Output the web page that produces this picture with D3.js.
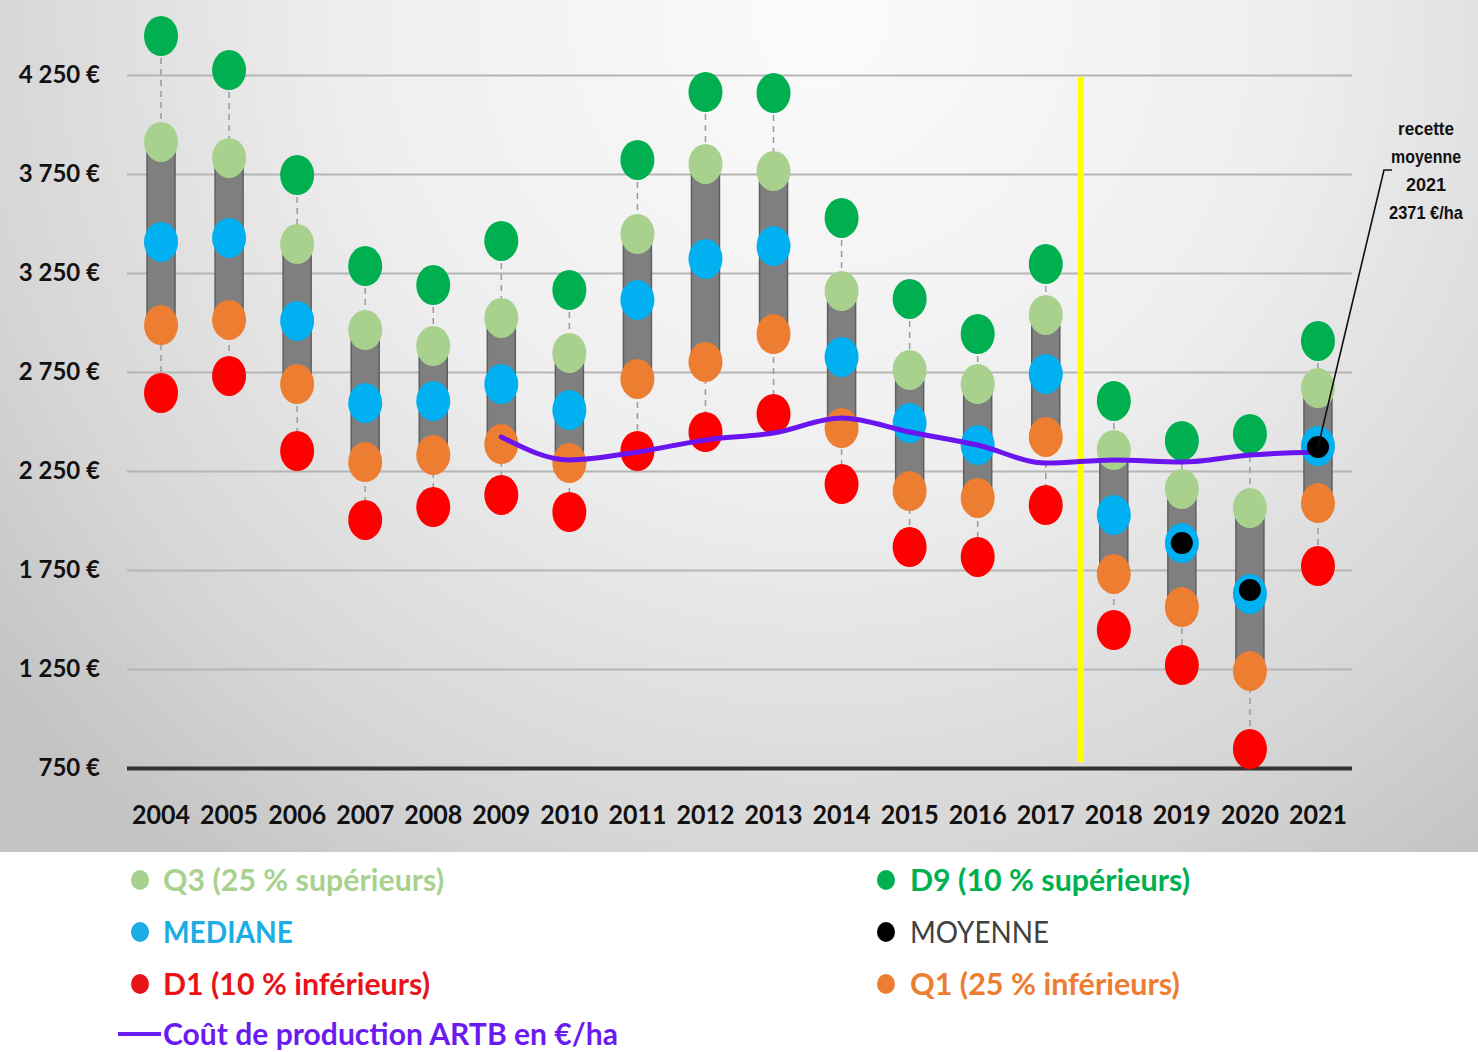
<!DOCTYPE html>
<html><head><meta charset="utf-8">
<script src="https://cdn.jsdelivr.net/npm/d3@7"></script>
<style>html,body{margin:0;padding:0;background:#fff;}svg{display:block;}</style>
</head><body>
<svg id="chart" width="1478" height="1052"></svg>
<script>
const years = ["2004","2005","2006","2007","2008","2009","2010","2011","2012","2013","2014","2015","2016","2017","2018","2019","2020","2021"];
const d9     = [4447,4275,3745,3285,3189,3412,3164,3821,4164,4159,3528,3119,2942,3295,2604,2402,2437,2907];
const q3     = [3912,3831,3396,2962,2881,3023,2846,3447,3801,3765,3159,2760,2689,3038,2356,2159,2063,2669];
const median = [3407,3427,3008,2593,2603,2689,2558,3114,3321,3386,2826,2492,2381,2740,2028,1886,1629,2376];
const q1     = [2987,3013,2689,2295,2331,2386,2290,2715,2801,2942,2467,2149,2114,2422,1730,1563,1240,2088];
const d1     = [2644,2730,2351,2003,2068,2129,2043,2351,2447,2538,2184,1866,1816,2078,1447,1270,846,1770];
const moyenne= [null,null,null,null,null,null,null,null,null,null,null,null,null,null,null,1886,1649,2371];
const cout   = [null,null,null,null,null,2422,2306,2346,2407,2442,2518,2447,2381,2290,2306,2295,2331,2346];
const yTicks = [750,1250,1750,2250,2750,3250,3750,4250];
const annotationLines = ["recette","moyenne","2021","2371 €/ha"];
const legendLeft = [
  {label:"Q3 (25 % supérieurs)", color:"#a9d18e", len:281, weight:700},
  {label:"MEDIANE", color:"#1cace6", len:130, weight:700},
  {label:"D1 (10 % inférieurs)", color:"#e8141a", len:267, weight:700}
];
const legendRight = [
  {label:"D9 (10 % supérieurs)", color:"#00b050", len:280, weight:700, dot:"#00b050"},
  {label:"MOYENNE", color:"#404040", len:139, weight:400, dot:"#000"},
  {label:"Q1 (25 % inférieurs)", color:"#ed7d31", len:270, weight:700, dot:"#ed7d31"}
];
const legendLine = {label:"Coût de production ARTB en €/ha", color:"#6a1cf0", len:455};

const svg = d3.select("#chart");
const W = 1478, H = 1052;
const defs = svg.append("defs");
const grad = defs.append("radialGradient").attr("id","bg").attr("gradientUnits","userSpaceOnUse")
  .attr("cx",820).attr("cy",20).attr("r",1050);
grad.append("stop").attr("offset","0").attr("stop-color","#fbfbfb");
grad.append("stop").attr("offset","0.45").attr("stop-color","#eeeeee");
grad.append("stop").attr("offset","0.8").attr("stop-color","#d6d6d6");
grad.append("stop").attr("offset","1").attr("stop-color","#c4c4c4");
svg.append("rect").attr("x",0).attr("y",0).attr("width",W).attr("height",852).attr("fill","url(#bg)");

const x = d3.scaleBand().domain(years).range([127,1352]);
const cx = d => x(d) + x.bandwidth()/2;
const y = d3.scaleLinear().domain([750,4250]).range([768,75]);

const font = "Lato, 'Open Sans', sans-serif";

// y axis with gridlines
const yAxis = d3.axisLeft(y).tickValues(yTicks).tickSize(-(1352-127)).tickPadding(27)
  .tickFormat(v => d3.format(",")(v).replace(",", " ") + " €");
const gy = svg.append("g").attr("transform","translate(127,0)").call(yAxis);
gy.select(".domain").remove();
gy.selectAll(".tick line").attr("stroke","#b5b5b5").attr("stroke-width",2);
gy.selectAll(".tick text").attr("font-family",font).attr("font-weight",700).attr("font-size",24).attr("fill","#111");
gy.selectAll(".tick").filter(d => d===750).select("line").attr("stroke","#333").attr("stroke-width",4);

// x axis labels
const xAxis = d3.axisBottom(x).tickSize(0).tickPadding(38);
const gx = svg.append("g").attr("transform","translate(0,768)").call(xAxis);
gx.select(".domain").remove();
gx.selectAll(".tick text").attr("font-family",font).attr("font-weight",700).attr("font-size",26).attr("fill","#111")
  .attr("textLength",58).attr("lengthAdjust","spacingAndGlyphs");

// yellow separator between 2017 and 2018
const sepX = (cx("2017")+cx("2018"))/2 + 1;
svg.append("line").attr("x1",sepX).attr("x2",sepX).attr("y1",y(4240)).attr("y2",y(780))
  .attr("stroke","#ffff00").attr("stroke-width",6);

const rows = years.map((yr,i)=>({yr, d9:d9[i], q3:q3[i], med:median[i], q1:q1[i], d1:d1[i], m:moyenne[i], c:cout[i]}));

// dashed whiskers
svg.append("g").selectAll("line").data(rows).join("line")
  .attr("x1",d=>cx(d.yr)).attr("x2",d=>cx(d.yr)).attr("y1",d=>y(d.d9)).attr("y2",d=>y(d.d1))
  .attr("stroke","#9a9a9a").attr("stroke-width",1.5).attr("stroke-dasharray","6,5");

// gray boxes Q3-Q1
svg.append("g").selectAll("rect").data(rows).join("rect")
  .attr("x",d=>cx(d.yr)-14).attr("width",28)
  .attr("y",d=>y(d.q3)).attr("height",d=>y(d.q1)-y(d.q3))
  .attr("fill","#7f7f7f").attr("stroke","#5f5f5f").attr("stroke-width",1.5);

function dots(key,color){
  svg.append("g").selectAll("ellipse").data(rows.filter(d=>d[key]!=null)).join("ellipse")
    .attr("cx",d=>cx(d.yr)).attr("cy",d=>y(d[key])).attr("rx",17).attr("ry",20).attr("fill",color);
}
dots("d9","#00b050");
dots("q3","#a9d18e");
dots("q1","#ed7d31");
dots("d1","#ff0000");
dots("med","#00b0f0");

// cost line
const line = d3.line().defined(d=>d.c!=null).x(d=>cx(d.yr)).y(d=>y(d.c)).curve(d3.curveMonotoneX);
svg.append("path").datum(rows).attr("d",line).attr("fill","none").attr("stroke","#6a14f0").attr("stroke-width",5)
  .attr("stroke-linecap","round");

// mean dots
svg.append("g").selectAll("circle").data(rows.filter(d=>d.m!=null)).join("circle")
  .attr("cx",d=>cx(d.yr)).attr("cy",d=>y(d.m)).attr("r",11).attr("fill","#000");

// annotation
const ann = svg.append("g");
annotationLines.forEach((t,i)=>{
  ann.append("text").attr("x",1426).attr("y",135+i*28).attr("text-anchor","middle")
    .attr("font-family","'Liberation Sans', Arial, sans-serif")
    .attr("font-weight",700).attr("font-size",19).attr("fill","#111")
    .attr("textLength", [56,70,40,74][i]).attr("lengthAdjust","spacingAndGlyphs").text(t);
});
const mean2021 = rows[rows.length-1];
ann.append("path").attr("d",`M1392,170 L1384,170 L${cx(mean2021.yr)},${y(mean2021.m)}`)
  .attr("fill","none").attr("stroke","#111").attr("stroke-width",1.6);

// legend
svg.append("rect").attr("x",0).attr("y",852).attr("width",W).attr("height",H-852).attr("fill","#fff");
const lg = svg.append("g");
legendLeft.forEach((d,i)=>{
  const yy = 880 + i*52;
  lg.append("ellipse").attr("cx",140).attr("cy",yy).attr("rx",9).attr("ry",10).attr("fill",d.color);
  lg.append("text").attr("x",163).attr("y",yy+11).attr("font-family",font).attr("font-weight",d.weight)
    .attr("font-size",30).attr("fill",d.color).attr("textLength",d.len).attr("lengthAdjust","spacingAndGlyphs").text(d.label);
});
legendRight.forEach((d,i)=>{
  const yy = 880 + i*52;
  lg.append("ellipse").attr("cx",886).attr("cy",yy).attr("rx",9).attr("ry",10).attr("fill",d.dot);
  lg.append("text").attr("x",910).attr("y",yy+11).attr("font-family",font).attr("font-weight",d.weight)
    .attr("font-size",30).attr("fill",d.color).attr("textLength",d.len).attr("lengthAdjust","spacingAndGlyphs").text(d.label);
});
lg.append("line").attr("x1",118).attr("x2",161).attr("y1",1034).attr("y2",1034).attr("stroke",legendLine.color).attr("stroke-width",4);
lg.append("text").attr("x",163).attr("y",1045).attr("font-family",font).attr("font-weight",700)
  .attr("font-size",30).attr("fill",legendLine.color).attr("textLength",legendLine.len).attr("lengthAdjust","spacingAndGlyphs").text(legendLine.label);
</script>
</body></html>
